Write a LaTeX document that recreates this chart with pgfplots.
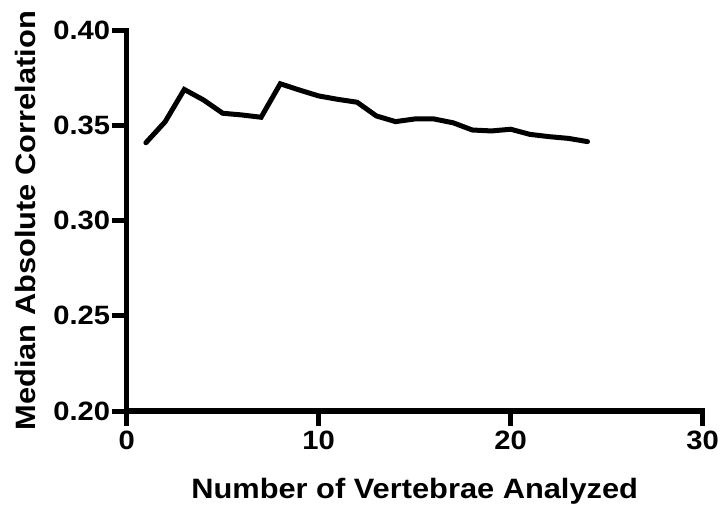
\documentclass[border=0pt]{standalone}
\usepackage{fontspec}
\setmainfont{Liberation Sans}[FakeStretch=1.1]
\usepackage{pgfplots}
\pgfplotsset{compat=1.18}

\begin{document}
\begin{tikzpicture}
\begin{axis}[
    scale only axis,
    width=576pt, height=380.5pt,
    xmin=0, xmax=30, ymin=0.2, ymax=0.4,
    axis lines*=left,
    axis line style={-, line width=5.5pt, line cap=rect},
    tick style={line width=5pt, black},
    tick align=outside,
    major tick length=15pt,
    xtick={0,10,20,30},
    ytick={0.20,0.25,...,0.401},
    ticklabel style={font=\fontsize{26.5}{26.5}\selectfont\bfseries},
    /pgf/number format/assume math mode=true,
    yticklabel style={xshift=2pt, /pgf/number format/.cd, fixed, fixed zerofill, precision=2},
    xticklabel style={yshift=-1pt},
    xlabel={Number of Vertebrae Analyzed},
    ylabel={Median Absolute Correlation},
    every axis x label/.style={at={(axis description cs:0.5,0)}, anchor=base, yshift=-87pt,
        font=\fontsize{28}{28}\selectfont\bfseries},
    every axis y label/.style={at={(axis description cs:0,0.5)}, xshift=-90.7pt, anchor=base, rotate=90,
        font=\fontsize{28}{28}\selectfont\bfseries},
    clip=false,
]
% median absolute correlation vs number of vertebrae
\addplot[black, line width=5pt, line cap=round] coordinates {
    (1, 0.341)
    (2, 0.352)
    (3, 0.369)
    (4, 0.3635)
    (5, 0.3565)
    (6, 0.3556)
    (7, 0.3544)
    (8, 0.372)
    (9, 0.3687)
    (10, 0.3656)
    (11, 0.3638)
    (12, 0.3623)
    (13, 0.3551)
    (14, 0.3521)
    (15, 0.3535)
    (16, 0.3535)
    (17, 0.3515)
    (18, 0.3477)
    (19, 0.3472)
    (20, 0.3481)
    (21, 0.3454)
    (22, 0.3442)
    (23, 0.3433)
    (24, 0.3416)
};
\end{axis}
\pgfresetboundingbox
\path (-126.7pt,-95pt) rectangle (593.3pt,411pt);
\end{tikzpicture}
\end{document}
